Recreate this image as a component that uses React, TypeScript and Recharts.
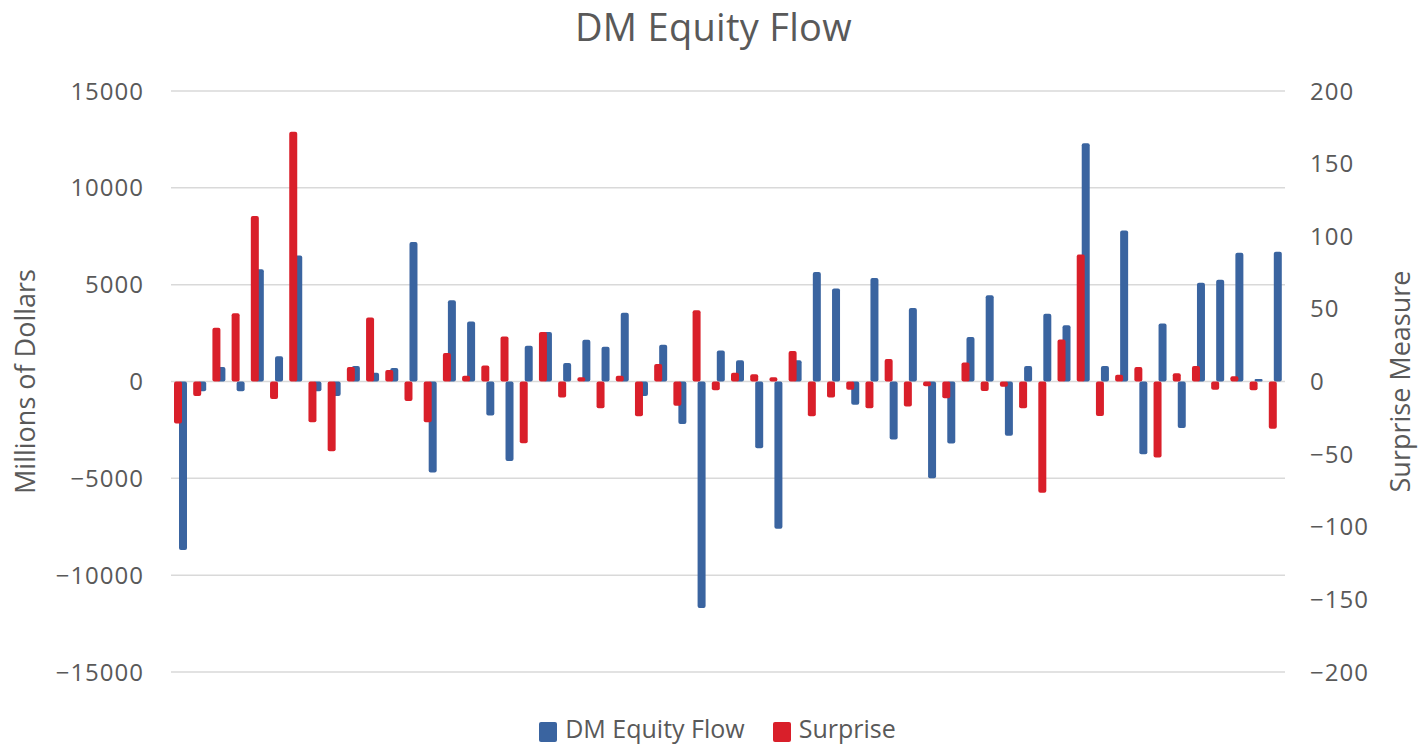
import { Bar, BarChart, CartesianGrid, XAxis, YAxis } from 'recharts'

const flowValues = [
  -8700, -500, 750, -500, 5800, 1300, 6500, -500, -750, 800, 450, 700, 7200, -4700, 4200,
  3100, -1750, -4100, 1850, 2550, 950, 2150, 1800, 3550, -750, 1900, -2200, -11700, 1600, 1100,
  -3450, -7600, 1100, 5650, 4800, -1200, 5350, -3000, 3800, -5000, -3200, 2300, 4450, -2800,
  800, 3500, 2900, 12300, 800, 7800, -3750, 3000, -2400, 5100, 5250, 6650, 130, 6700,
]

const surpriseValues = [
  -29, -10, 37, 47, 114, -12, 172, -28, -48, 10, 44, 8, -13.5, -28, 19.6,
  4, 11, 31, -42.5, 34, -11, 3, -18.4, 4, -24, 12, -16.7, 49, -6, 6,
  5, 3, 21, -24, -11, -5.6, -18.4, 15.5, -17.2, -3.2, -11.5, 13, -6.6, -3.7,
  -18.4, -76.6, 29, 87.4, -23.8, 4.7, 10, -52.3, 5.6, 10.6, -5.6, 3.7, -6.1, -32.6,
]

const leftTicks = [-15000, -10000, -5000, 0, 5000, 10000, 15000]
const rightTicks = [-200, -150, -100, -50, 0, 50, 100, 150, 200]

const BLUE = '#3a64a0'
const RED = '#d91f2a'
const GREY = '#595959'
const FONT = '"Open Sans", sans-serif'

const data = flowValues.map((flow, i) => ({
  period: i + 1,
  flow,
  surprise: surpriseValues[i],
}))

const fmt = (v: number) => String(v).replace('-', '\u2212')

const legendItems = [
  { name: 'DM Equity Flow', color: BLUE },
  { name: 'Surprise', color: RED },
]

export default function App() {
  return (
    <div
      style={{
        position: 'absolute',
        left: 0,
        top: 0,
        width: 1419,
        height: 745,
        background: '#fff',
        fontFamily: FONT,
        color: GREY,
      }}
    >
      <div
        style={{
          position: 'absolute',
          top: 3,
          left: 4,
          width: 1419,
          textAlign: 'center',
          fontSize: 38,
          letterSpacing: 0.3,
          lineHeight: '46px',
        }}
      >
        DM Equity Flow
      </div>

      <BarChart
        width={1419}
        height={745}
        data={data}
        margin={{ top: 91, right: 0, bottom: 73, left: 0 }}
        barGap={-13}
        barSize={8}
      >
        <CartesianGrid yAxisId="left" vertical={false} stroke="#d9d9d9" strokeWidth={1.5} />
        <XAxis dataKey="period" hide />
        <YAxis
          yAxisId="left"
          width={171}
          domain={[-15000, 15000]}
          ticks={leftTicks}
          tickFormatter={fmt}
          axisLine={false}
          tickLine={false}
          tickMargin={21}
          tick={{ fill: GREY, fontSize: 24, letterSpacing: 1 }}
          label={{
            value: 'Millions of Dollars',
            angle: -90,
            position: 'insideLeft',
            offset: 25,
            style: { textAnchor: 'middle', fill: GREY, fontSize: 27 },
          }}
        />
        <YAxis
          yAxisId="right"
          orientation="right"
          width={134}
          domain={[-200, 200]}
          ticks={rightTicks}
          tickFormatter={fmt}
          axisLine={false}
          tickLine={false}
          tickMargin={19}
          tick={{ fill: GREY, fontSize: 24, letterSpacing: 1 }}
          label={{
            value: 'Surprise Measure',
            angle: -90,
            position: 'insideRight',
            offset: 19,
            style: { textAnchor: 'middle', fill: GREY, fontSize: 27 },
          }}
        />
        <Bar
          yAxisId="left"
          dataKey="flow"
          name="DM Equity Flow"
          fill={BLUE}
          radius={2}
          isAnimationActive={false}
        />
        <Bar
          yAxisId="right"
          dataKey="surprise"
          name="Surprise"
          fill={RED}
          radius={2}
          isAnimationActive={false}
        />
      </BarChart>

      <div
        style={{
          position: 'absolute',
          top: 712,
          left: 8,
          width: 1419,
          display: 'flex',
          justifyContent: 'center',
          gap: 28,
          fontSize: 25,
          lineHeight: '32px',
        }}
      >
        {legendItems.map((it) => (
          <div key={it.name} style={{ display: 'flex', alignItems: 'center', gap: 8 }}>
            <span
              style={{
                display: 'inline-block',
                width: 18,
                height: 20,
                borderRadius: 2,
                background: it.color,
                marginTop: 8,
              }}
            />
            <span>{it.name}</span>
          </div>
        ))}
      </div>
    </div>
  )
}
